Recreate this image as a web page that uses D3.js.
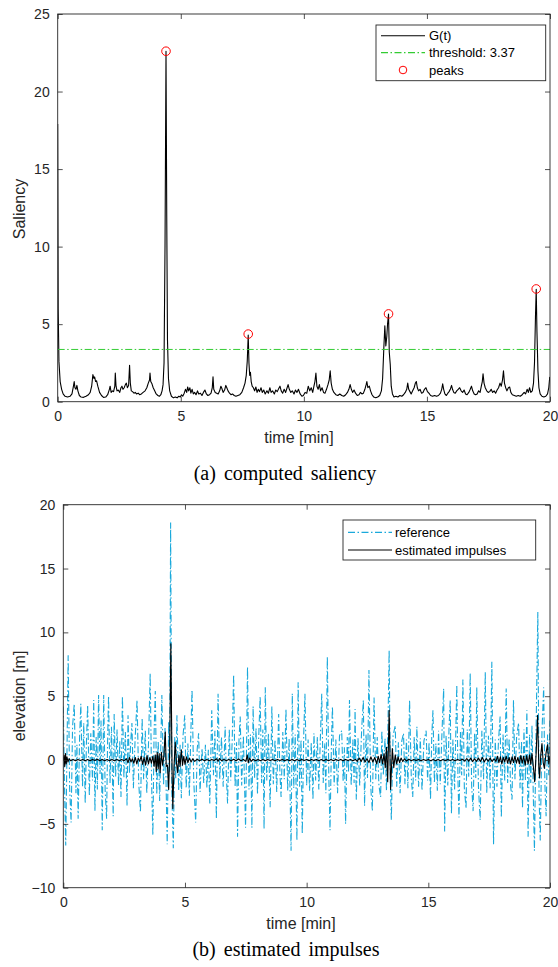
<!DOCTYPE html>
<html><head><meta charset="utf-8">
<script src="https://cdn.jsdelivr.net/npm/d3@7"></script>
<style>body{margin:0;background:#fff}svg{display:block}</style>
</head><body>
<script>
// ---------------- DATA ----------------
const xTicks = [0, 5, 10, 15, 20];
const salTicks = [0, 5, 10, 15, 20, 25];
const elevTicks = [-10, -5, 0, 5, 10, 15, 20];
const threshold = 3.37;
const legendTop = ["G(t)", "threshold: 3.37", "peaks"];
const legendBottom = ["reference", "estimated impulses"];

// saliency G(t): [time (min), value]
const saliency = [
[0.00,17.9],[0.02,6.0],[0.05,2.6],[0.10,1.3],[0.16,0.8],[0.22,0.5],[0.30,0.35],[0.40,0.3],[0.50,0.35],[0.58,0.5],
[0.64,1.0],[0.67,1.3],[0.70,0.9],[0.74,0.8],[0.78,1.05],[0.82,0.7],[0.88,0.4],[0.95,0.3],[1.05,0.28],[1.15,0.35],
[1.25,0.45],[1.32,0.6],[1.38,1.0],[1.43,1.75],[1.47,1.5],[1.50,1.6],[1.54,1.3],[1.58,1.35],[1.63,1.0],[1.70,0.6],
[1.78,0.4],[1.86,0.28],[1.95,0.3],[2.03,0.45],[2.10,0.8],[2.13,1.0],[2.17,0.6],[2.22,0.7],[2.27,0.65],[2.32,1.0],
[2.34,1.85],[2.37,1.0],[2.41,0.7],[2.46,0.75],[2.52,0.6],[2.57,0.9],[2.61,1.0],[2.65,0.8],[2.70,0.9],[2.75,1.1],
[2.79,1.2],[2.83,0.9],[2.88,1.05],[2.92,2.35],[2.95,1.2],[2.99,0.7],[3.04,0.65],[3.10,0.55],[3.15,0.6],[3.20,0.5],
[3.27,0.55],[3.33,0.45],[3.40,0.5],[3.47,0.6],[3.55,0.7],[3.62,0.9],[3.68,1.2],[3.73,1.4],[3.75,1.85],[3.78,1.3],
[3.83,1.15],[3.88,0.9],[3.94,0.7],[4.00,0.5],[4.07,0.4],[4.13,0.35],[4.19,0.45],[4.24,0.7],[4.28,1.1],[4.32,2.5],
[4.36,10],[4.40,22.6],[4.43,12],[4.46,4],[4.50,1.5],[4.55,0.7],[4.62,0.35],[4.70,0.25],[4.78,0.3],[4.85,0.25],
[4.92,0.35],[4.98,0.3],[5.03,0.45],[5.08,0.35],[5.14,0.55],[5.19,0.8],[5.24,0.6],[5.28,0.95],[5.32,0.7],[5.37,0.9],
[5.41,0.55],[5.46,0.8],[5.51,0.5],[5.56,0.6],[5.62,0.45],[5.68,0.7],[5.73,0.5],[5.80,0.55],[5.86,0.4],[5.92,0.6],
[5.98,0.75],[6.04,0.5],[6.10,0.4],[6.17,0.45],[6.23,0.55],[6.28,0.9],[6.31,1.6],[6.34,0.8],[6.40,0.6],[6.46,0.55],
[6.52,0.5],[6.58,0.7],[6.63,1.0],[6.67,0.85],[6.72,0.6],[6.78,0.75],[6.83,1.05],[6.87,0.9],[6.92,0.7],[6.98,0.55],
[7.04,0.45],[7.10,0.5],[7.17,0.4],[7.24,0.35],[7.32,0.4],[7.40,0.45],[7.48,0.6],[7.55,0.9],[7.61,1.2],[7.66,1.7],
[7.70,2.6],[7.74,4.3],[7.77,2.5],[7.80,1.7],[7.83,1.9],[7.86,1.3],[7.90,1.0],[7.95,0.9],[8.00,0.7],[8.05,0.95],
[8.10,0.6],[8.15,0.8],[8.20,0.65],[8.26,0.9],[8.31,0.6],[8.37,0.75],[8.43,0.5],[8.50,0.7],[8.56,0.55],[8.62,0.9],
[8.67,0.6],[8.73,0.7],[8.80,0.5],[8.86,0.75],[8.92,0.65],[8.98,0.85],[9.03,1.0],[9.08,0.7],[9.14,0.55],[9.20,0.8],
[9.26,0.6],[9.31,0.85],[9.36,1.1],[9.41,0.8],[9.47,0.6],[9.53,0.7],[9.60,0.5],[9.66,0.75],[9.72,0.6],[9.78,0.8],
[9.85,0.5],[9.92,0.35],[9.98,0.4],[10.05,0.6],[10.12,0.55],[10.18,1.0],[10.24,0.7],[10.30,0.9],[10.36,0.6],[10.41,1.0],
[10.45,1.3],[10.49,1.85],[10.53,1.0],[10.58,0.8],[10.63,1.1],[10.68,0.7],[10.74,0.9],[10.80,0.6],[10.86,0.55],[10.92,0.8],
[10.98,1.1],[11.03,1.4],[11.07,2.0],[11.11,1.2],[11.16,0.8],[11.22,0.6],[11.30,0.45],[11.38,0.4],[11.46,0.5],[11.54,0.4],
[11.62,0.35],[11.70,0.45],[11.77,0.6],[11.83,0.8],[11.88,1.1],[11.93,0.8],[11.98,0.6],[12.04,0.75],[12.10,0.55],[12.17,0.4],
[12.24,0.45],[12.30,0.6],[12.36,0.5],[12.42,0.55],[12.48,0.8],[12.53,1.1],[12.56,1.3],[12.60,0.9],[12.66,1.0],[12.71,0.7],
[12.77,0.45],[12.84,0.3],[12.92,0.25],[13.00,0.3],[13.08,0.4],[13.15,0.7],[13.20,1.5],[13.25,3.5],[13.29,4.9],[13.33,3.6],
[13.37,4.2],[13.40,5.0],[13.44,5.65],[13.47,3.2],[13.51,2.4],[13.55,1.0],[13.60,0.5],[13.66,0.3],[13.74,0.35],[13.82,0.3],
[13.90,0.4],[13.98,0.35],[14.05,0.45],[14.12,0.6],[14.18,0.8],[14.22,1.2],[14.26,0.8],[14.31,0.65],[14.36,0.5],[14.42,0.7],
[14.48,0.9],[14.53,1.2],[14.57,1.3],[14.61,0.9],[14.66,0.7],[14.72,0.8],[14.78,0.55],[14.84,0.6],[14.90,0.8],[14.96,0.9],
[15.02,0.65],[15.08,0.55],[15.15,0.4],[15.23,0.35],[15.31,0.4],[15.39,0.35],[15.47,0.4],[15.55,0.55],[15.60,0.8],[15.64,1.15],
[15.68,0.8],[15.73,0.5],[15.79,0.4],[15.85,0.55],[15.90,0.65],[15.95,0.8],[16.00,1.05],[16.04,0.8],[16.09,0.6],[16.15,0.55],
[16.21,0.7],[16.27,0.8],[16.33,0.9],[16.39,0.7],[16.45,0.6],[16.51,0.75],[16.57,0.5],[16.63,0.45],[16.70,0.6],[16.76,0.8],
[16.81,1.0],[16.86,0.7],[16.92,0.5],[16.98,0.45],[17.04,0.5],[17.10,0.7],[17.16,0.6],[17.21,1.0],[17.25,1.3],[17.28,1.8],
[17.32,1.2],[17.37,0.9],[17.43,0.7],[17.49,0.6],[17.55,0.65],[17.61,0.8],[17.67,0.6],[17.73,0.7],[17.79,0.55],[17.85,0.75],
[17.91,0.9],[17.97,1.2],[18.02,1.0],[18.07,1.4],[18.11,2.0],[18.15,1.2],[18.20,0.9],[18.25,0.7],[18.31,0.9],[18.36,0.95],
[18.41,0.6],[18.47,0.45],[18.55,0.4],[18.63,0.35],[18.71,0.4],[18.79,0.35],[18.87,0.45],[18.95,0.6],[19.01,0.5],[19.07,0.8],
[19.12,0.6],[19.17,0.9],[19.22,0.6],[19.28,0.7],[19.33,1.2],[19.37,2.5],[19.41,5.5],[19.44,7.25],[19.47,4.5],[19.51,2.0],
[19.55,0.9],[19.60,0.5],[19.67,0.35],[19.75,0.3],[19.83,0.35],[19.90,0.5],[19.95,0.9],[19.99,1.6]
];

// detected peaks: [time, value]
const peaks = [[4.40,22.6],[7.74,4.36],[13.44,5.66],[19.44,7.27]];

// reference elevation: [time, metres]
const reference = [
[0.00,4.2],[0.05,-2.0],[0.10,-6.7],[0.16,2.0],[0.20,8.2],[0.26,-2.2],[0.32,-4.9],[0.38,2.6],[0.45,4.4],[0.52,-2.6],
[0.56,1.2],[0.61,-4.6],[0.67,1.8],[0.72,4.4],[0.79,-2.1],[0.84,2.9],[0.90,-3.4],[0.95,1.3],[1.00,4.3],[1.07,-2.8],
[1.13,2.1],[1.20,-1.6],[1.25,4.7],[1.30,-4.0],[1.35,1.8],[1.40,-2.3],[1.45,5.1],[1.51,-1.1],[1.55,3.1],[1.60,-5.5],
[1.66,5.1],[1.72,-2.4],[1.78,-4.6],[1.82,1.5],[1.86,5.0],[1.92,-1.8],[1.98,2.6],[2.05,-4.4],[2.09,3.6],[2.15,-1.3],
[2.21,2.4],[2.27,-2.0],[2.32,1.5],[2.37,-2.9],[2.43,5.0],[2.49,-1.4],[2.55,2.2],[2.62,-3.6],[2.66,3.5],[2.72,-1.0],
[2.77,1.4],[2.82,2.9],[2.88,-2.2],[2.95,1.6],[3.03,4.7],[3.10,-1.8],[3.17,-4.1],[3.24,3.3],[3.30,-1.5],[3.37,2.3],
[3.43,-2.6],[3.50,1.2],[3.57,6.8],[3.63,-1.9],[3.68,-5.9],[3.73,2.0],[3.78,5.4],[3.84,-2.7],[3.90,1.5],[3.96,-3.2],
[4.05,5.1],[4.12,-2.0],[4.18,2.5],[4.27,-6.6],[4.33,3.0],[4.37,-1.0],[4.41,18.6],[4.46,-2.5],[4.52,-6.9],[4.58,1.8],
[4.62,-1.5],[4.67,3.5],[4.74,-2.4],[4.80,1.2],[4.85,-3.0],[4.92,1.9],[4.99,3.5],[5.05,-2.2],[5.12,1.3],[5.18,-2.8],
[5.24,2.0],[5.29,5.5],[5.36,-1.6],[5.44,-4.9],[5.50,0.8],[5.56,2.1],[5.62,-2.5],[5.70,0.9],[5.77,-1.8],[5.84,1.2],
[5.90,-2.2],[5.96,0.8],[6.02,-3.4],[6.10,3.9],[6.17,-1.2],[6.23,2.3],[6.29,-4.6],[6.36,5.2],[6.43,-1.5],[6.50,1.8],
[6.57,-2.1],[6.65,2.6],[6.70,-1.2],[6.75,-3.4],[6.82,2.4],[6.88,-1.6],[6.94,1.5],[7.00,6.7],[7.06,-2.1],[7.12,1.4],
[7.16,-6.0],[7.22,1.6],[7.27,3.4],[7.33,-2.0],[7.40,1.9],[7.49,-5.3],[7.57,7.3],[7.63,-2.3],[7.69,2.0],[7.75,-5.3],
[7.80,4.2],[7.86,-1.4],[7.92,2.5],[7.98,-2.7],[8.03,1.8],[8.09,5.0],[8.15,-1.8],[8.20,2.4],[8.25,-5.4],[8.30,5.7],
[8.36,-1.6],[8.43,2.1],[8.50,-3.7],[8.57,4.2],[8.63,-1.9],[8.70,1.6],[8.77,-2.5],[8.85,3.6],[8.90,-1.0],[8.95,-2.9],
[9.02,2.2],[9.08,-1.5],[9.15,4.0],[9.22,-2.4],[9.28,1.7],[9.36,-7.1],[9.41,5.2],[9.47,-2.2],[9.53,2.0],[9.60,-6.3],
[9.65,6.1],[9.71,-2.1],[9.77,1.6],[9.82,-5.8],[9.88,2.0],[9.93,5.2],[10.00,-2.0],[10.06,1.6],[10.12,-2.4],[10.19,1.4],
[10.26,-3.1],[10.30,2.1],[10.37,-1.6],[10.44,1.8],[10.50,-2.3],[10.56,1.5],[10.62,5.2],[10.68,-1.8],[10.74,1.3],[10.79,-2.6],
[10.85,8.1],[10.91,-1.2],[10.96,-5.5],[11.02,1.4],[11.06,4.2],[11.13,-2.0],[11.20,1.6],[11.27,-2.6],[11.35,1.9],[11.44,2.3],
[11.50,-1.7],[11.55,1.0],[11.60,-5.0],[11.67,1.8],[11.72,-1.0],[11.76,4.7],[11.83,-2.0],[11.90,1.6],[11.95,-1.8],[11.99,4.0],
[12.04,-3.1],[12.11,1.7],[12.18,-2.0],[12.26,2.4],[12.33,4.7],[12.38,-3.6],[12.44,2.0],[12.50,-1.4],[12.56,7.05],[12.63,-2.0],
[12.70,-4.0],[12.77,4.9],[12.84,-1.5],[12.90,1.8],[12.97,-2.0],[13.04,-2.9],[13.09,2.3],[13.15,-1.2],[13.22,1.7],[13.28,-2.4],
[13.34,2.5],[13.39,8.6],[13.44,-1.7],[13.48,-4.7],[13.55,1.9],[13.64,2.7],[13.70,-2.1],[13.77,1.4],[13.84,-2.6],[13.91,1.5],
[13.98,2.1],[14.04,-1.9],[14.10,1.6],[14.16,-2.2],[14.23,4.7],[14.30,-1.4],[14.36,-2.9],[14.42,1.8],[14.48,-1.6],[14.53,2.6],
[14.60,-2.1],[14.67,1.7],[14.74,-2.4],[14.82,1.5],[14.91,2.3],[14.97,-1.6],[15.03,1.4],[15.09,-3.1],[15.14,1.8],[15.19,3.9],
[15.25,-1.8],[15.31,1.3],[15.37,-2.4],[15.42,2.3],[15.49,-1.9],[15.56,2.1],[15.63,5.6],[15.67,-5.6],[15.73,1.9],[15.80,-2.0],
[15.85,2.5],[15.90,4.7],[15.95,-4.2],[16.01,1.6],[16.08,-2.3],[16.17,5.9],[16.22,-1.7],[16.26,-4.5],[16.32,2.2],[16.37,-1.2],
[16.42,6.3],[16.48,-2.2],[16.55,-3.8],[16.60,2.4],[16.66,-1.3],[16.72,6.8],[16.78,-2.0],[16.84,-4.0],[16.90,2.1],[16.95,-1.4],
[16.99,5.7],[17.06,-2.1],[17.13,-4.7],[17.20,2.3],[17.27,-1.5],[17.34,6.9],[17.40,-2.6],[17.47,1.9],[17.54,-2.2],[17.61,7.7],
[17.68,-6.6],[17.75,1.6],[17.82,-2.1],[17.88,1.4],[17.95,3.4],[18.00,-4.5],[18.07,2.0],[18.14,-1.6],[18.20,5.6],[18.26,-1.8],
[18.32,1.7],[18.38,-2.0],[18.44,-3.1],[18.50,4.7],[18.56,-1.5],[18.63,1.9],[18.71,2.9],[18.77,-2.2],[18.83,1.5],[18.87,-3.8],
[18.93,2.4],[18.99,-1.6],[19.05,3.9],[19.10,-6.0],[19.16,2.0],[19.21,-1.8],[19.26,2.7],[19.31,-2.4],[19.36,-7.1],[19.43,2.5],
[19.50,11.6],[19.55,-2.8],[19.60,-6.3],[19.67,2.2],[19.74,5.7],[19.79,-1.9],[19.84,-4.4],[19.90,2.0],[19.95,-1.2],[20.00,3.1]
];

// estimated impulses: [time, metres]
const impulses = [
[0.00,0.0],[0.03,0.4],[0.06,-0.5],[0.09,0.5],[0.12,-0.3],[0.15,0.25],[0.19,-0.15],[0.24,0.1],[0.30,-0.05],[0.40,0.05],
[0.50,-0.05],[0.60,0.05],[0.70,-0.04],[0.80,0.05],[0.90,-0.05],[1.00,0.04],[1.10,-0.05],[1.20,0.05],[1.30,-0.04],[1.40,0.06],
[1.50,-0.06],[1.60,0.05],[1.70,-0.05],[1.80,0.04],[1.90,-0.05],[2.00,0.05],[2.10,-0.05],[2.20,0.05],[2.30,-0.06],[2.40,0.04],
[2.50,-0.05],[2.60,0.1],[2.66,-0.2],[2.72,0.2],[2.78,-0.15],[2.84,0.1],[2.90,-0.25],[2.96,0.2],[3.02,-0.3],[3.08,0.15],
[3.14,-0.1],[3.20,0.3],[3.26,-0.35],[3.32,0.2],[3.38,-0.4],[3.44,0.35],[3.50,-0.3],[3.56,0.2],[3.62,-0.25],[3.68,0.3],
[3.73,-0.5],[3.78,0.4],[3.82,-0.9],[3.86,0.6],[3.90,-0.7],[3.94,0.5],[3.98,-1.0],[4.03,0.6],[4.08,-0.4],[4.13,0.3],
[4.19,2.2],[4.23,-0.5],[4.28,-0.4],[4.33,-2.3],[4.37,0.5],[4.42,9.1],[4.47,-1.0],[4.50,-3.8],[4.55,-0.5],[4.60,1.4],
[4.65,-0.2],[4.70,-1.0],[4.75,0.4],[4.80,-0.5],[4.85,0.8],[4.90,-0.4],[4.95,0.3],[5.00,-0.35],[5.06,0.25],[5.12,-0.2],
[5.18,0.15],[5.25,-0.15],[5.32,0.1],[5.40,-0.1],[5.50,0.06],[5.60,-0.05],[5.70,0.06],[5.80,-0.05],[5.90,0.04],[6.00,-0.05],
[6.10,0.05],[6.20,-0.04],[6.30,0.1],[6.36,-0.1],[6.42,0.12],[6.50,-0.05],[6.60,0.05],[6.70,-0.06],[6.80,0.05],[6.90,-0.05],
[7.00,0.06],[7.10,-0.05],[7.20,0.08],[7.30,-0.06],[7.40,0.05],[7.50,-0.1],[7.56,0.4],[7.60,-0.2],[7.66,0.15],[7.72,-0.1],
[7.80,0.06],[7.90,-0.05],[8.00,0.05],[8.10,-0.05],[8.20,0.04],[8.30,-0.05],[8.40,0.05],[8.50,-0.04],[8.60,0.05],[8.70,-0.05],
[8.80,0.05],[8.90,-0.04],[9.00,0.05],[9.10,-0.05],[9.20,0.04],[9.30,-0.05],[9.40,0.05],[9.50,-0.05],[9.60,0.04],[9.70,-0.05],
[9.80,0.05],[9.90,-0.04],[10.00,0.05],[10.10,-0.05],[10.20,0.05],[10.30,-0.04],[10.40,0.05],[10.50,-0.05],[10.60,0.04],[10.70,-0.05],
[10.80,0.05],[10.90,-0.05],[11.00,0.04],[11.10,-0.05],[11.20,0.05],[11.30,-0.04],[11.40,0.05],[11.50,-0.05],[11.60,0.05],[11.70,-0.04],
[11.80,0.05],[11.90,-0.05],[12.00,0.05],[12.08,-0.1],[12.16,0.15],[12.24,-0.12],[12.32,0.2],[12.40,-0.15],[12.48,0.1],[12.56,-0.2],
[12.64,0.25],[12.72,-0.15],[12.80,0.2],[12.88,-0.3],[12.94,0.3],[13.00,-0.2],[13.06,0.45],[13.12,-0.3],[13.18,0.5],[13.23,-0.6],
[13.28,1.0],[13.33,-1.7],[13.39,3.9],[13.45,-2.3],[13.52,0.9],[13.58,-0.6],[13.64,0.4],[13.70,-0.3],[13.76,0.25],[13.82,-0.2],
[13.88,0.15],[13.95,-0.12],[14.02,0.1],[14.10,-0.08],[14.20,0.06],[14.30,-0.05],[14.40,0.05],[14.50,-0.04],[14.60,0.05],[14.70,-0.05],
[14.80,0.05],[14.90,-0.04],[15.00,0.05],[15.10,-0.05],[15.20,0.04],[15.30,-0.05],[15.40,0.05],[15.50,-0.05],[15.60,0.04],[15.70,-0.05],
[15.80,0.05],[15.90,-0.04],[16.00,0.05],[16.10,-0.05],[16.20,0.05],[16.30,-0.04],[16.40,0.06],[16.50,-0.08],[16.58,0.12],[16.66,-0.1],
[16.74,0.15],[16.82,-0.12],[16.90,0.1],[16.98,-0.1],[17.06,0.15],[17.14,-0.12],[17.22,0.2],[17.30,-0.15],[17.38,0.12],[17.46,-0.1],
[17.54,0.15],[17.62,-0.12],[17.70,0.1],[17.78,-0.1],[17.84,0.3],[17.90,-0.2],[17.96,0.25],[18.02,-0.3],[18.08,0.2],[18.14,-0.15],
[18.20,0.3],[18.26,-0.25],[18.32,0.2],[18.38,-0.3],[18.44,0.25],[18.50,-0.2],[18.56,0.3],[18.62,-0.25],[18.68,0.2],[18.74,-0.3],
[18.80,0.35],[18.86,-0.25],[18.92,0.3],[18.98,-0.4],[19.04,0.35],[19.10,-0.3],[19.16,0.4],[19.21,-0.35],[19.26,0.5],[19.32,-0.6],
[19.37,-1.7],[19.43,0.5],[19.49,3.5],[19.54,-0.5],[19.57,-1.4],[19.62,0.4],[19.67,1.3],[19.72,-0.2],[19.77,-0.65],[19.84,0.6],
[19.90,1.2],[19.95,-0.3],[20.00,0.3]
];

// ---------------- DRAWING ----------------
const W = 558, H = 967;
const axisColor = "#262626";
const cyan = "#1aa9db";
const green = "#33cc33";
const sans = "'Liberation Sans', Arial, Helvetica, sans-serif";
const serif = "'Liberation Serif', 'Times New Roman', serif";

const svg = d3.select("body").append("svg").attr("width", W).attr("height", H);

function panel(cfg) {
  const {x0, x1, y0, y1, xDom, yDom, yTicks, id} = cfg;
  const x = d3.scaleLinear().domain(xDom).range([x0, x1]);
  const y = d3.scaleLinear().domain(yDom).range([y1, y0]);
  const g = svg.append("g");
  svg.append("clipPath").attr("id", id).append("rect")
    .attr("x", x0).attr("y", y0).attr("width", x1 - x0).attr("height", y1 - y0);
  const plot = g.append("g").attr("clip-path", `url(#${id})`);

  const styleAxis = (sel, labels) => {
    sel.select(".domain").remove();
    sel.selectAll(".tick line").attr("stroke", axisColor).attr("stroke-width", 0.8);
    sel.selectAll(".tick text").attr("fill", axisColor)
      .style("font-family", sans).style("font-size", "14px");
    if (!labels) sel.selectAll(".tick text").remove();
  };
  g.append("g").attr("transform", `translate(0,${y1})`)
    .call(d3.axisBottom(x).tickValues(xTicks).tickSize(-5).tickPadding(9.5).tickFormat(d3.format("d")))
    .call(s => styleAxis(s, true));
  g.append("g").attr("transform", `translate(0,${y0})`)
    .call(d3.axisTop(x).tickValues(xTicks).tickSize(-5))
    .call(s => styleAxis(s, false));
  g.append("g").attr("transform", `translate(${x0},0)`)
    .call(d3.axisLeft(y).tickValues(yTicks).tickSize(-5).tickPadding(8).tickFormat(d3.format("d")))
    .call(s => styleAxis(s, true));
  g.append("g").attr("transform", `translate(${x1},0)`)
    .call(d3.axisRight(y).tickValues(yTicks).tickSize(-5))
    .call(s => styleAxis(s, false));
  g.append("rect").attr("x", x0).attr("y", y0).attr("width", x1 - x0).attr("height", y1 - y0)
    .attr("fill", "none").attr("stroke", axisColor).attr("stroke-width", 0.9);
  return {x, y, g, plot};
}

// ---- panel (a)
const A = panel({x0: 57.7, x1: 550, y0: 14, y1: 401.7, xDom: [0, 20], yDom: [0, 25], yTicks: salTicks, id: "clipA"});
const lineA = d3.line().x(d => A.x(d[0])).y(d => A.y(d[1]));
A.plot.append("path").datum(saliency).attr("d", lineA)
  .attr("fill", "none").attr("stroke", "#000").attr("stroke-width", 1.1).attr("stroke-linejoin", "round");
A.plot.append("line").attr("x1", A.x(0)).attr("x2", A.x(20)).attr("y1", A.y(threshold)).attr("y2", A.y(threshold))
  .attr("stroke", green).attr("stroke-width", 1).attr("stroke-dasharray", "7,2.5,1.5,2.5");
A.g.selectAll("circle.pk").data(peaks).join("circle").attr("class", "pk")
  .attr("cx", d => A.x(d[0])).attr("cy", d => A.y(d[1])).attr("r", 4.3)
  .attr("fill", "none").attr("stroke", "#ff0000").attr("stroke-width", 1);

// labels (a)
A.g.append("text").attr("x", 299).attr("y", 443).attr("text-anchor", "middle")
  .style("font-family", sans).style("font-size", "16px").attr("fill", axisColor).text("time [min]");
A.g.append("text").attr("transform", "translate(25,209) rotate(-90)").attr("text-anchor", "middle")
  .style("font-family", sans).style("font-size", "16px").attr("fill", axisColor).text("Saliency");
svg.append("text").attr("x", 285).attr("y", 480).attr("text-anchor", "middle")
  .style("font-family", serif).style("font-size", "20px").style("word-spacing", "3px").attr("fill", "#000")
  .text("(a) computed saliency");

// legend (a)
{
  const lg = A.g.append("g");
  lg.append("rect").attr("x", 376).attr("y", 25).attr("width", 169.7).attr("height", 55.7)
    .attr("fill", "#fff").attr("stroke", axisColor).attr("stroke-width", 0.9);
  const rows = [35.7, 52.7, 70];
  lg.append("line").attr("x1", 381).attr("x2", 425).attr("y1", rows[0]).attr("y2", rows[0])
    .attr("stroke", "#000").attr("stroke-width", 1.1);
  lg.append("line").attr("x1", 381).attr("x2", 425).attr("y1", rows[1]).attr("y2", rows[1])
    .attr("stroke", green).attr("stroke-width", 1.2).attr("stroke-dasharray", "7,2.5,1.5,2.5");
  lg.append("circle").attr("cx", 403).attr("cy", rows[2]).attr("r", 3.8)
    .attr("fill", "none").attr("stroke", "#ff0000").attr("stroke-width", 1);
  lg.selectAll("text").data(legendTop).join("text")
    .attr("x", 429).attr("y", (d, i) => rows[i] + 4.7)
    .style("font-family", sans).style("font-size", "13px").attr("fill", "#000").text(d => d);
}

// ---- panel (b)
const B = panel({x0: 63.3, x1: 550, y0: 504.7, y1: 887.7, xDom: [0, 20], yDom: [-10, 20], yTicks: elevTicks, id: "clipB"});
const lineB = d3.line().x(d => B.x(d[0])).y(d => B.y(d[1]));
B.plot.append("path").datum(reference).attr("d", lineB)
  .attr("fill", "none").attr("stroke", cyan).attr("stroke-width", 1.1)
  .attr("stroke-dasharray", "7,2.5,1.5,2.5");
B.plot.append("path").datum(impulses).attr("d", lineB)
  .attr("fill", "none").attr("stroke", "#000").attr("stroke-width", 1.1).attr("stroke-linejoin", "round");

B.g.append("text").attr("x", 301).attr("y", 929).attr("text-anchor", "middle")
  .style("font-family", sans).style("font-size", "16px").attr("fill", axisColor).text("time [min]");
B.g.append("text").attr("transform", "translate(25,696) rotate(-90)").attr("text-anchor", "middle")
  .style("font-family", sans).style("font-size", "16px").attr("fill", axisColor).text("elevation [m]");
svg.append("text").attr("x", 286).attr("y", 956).attr("text-anchor", "middle")
  .style("font-family", serif).style("font-size", "20px").style("word-spacing", "3px").attr("fill", "#000")
  .text("(b) estimated impulses");

// legend (b)
{
  const lg = B.g.append("g");
  lg.append("rect").attr("x", 343).attr("y", 520).attr("width", 192.7).attr("height", 40)
    .attr("fill", "#fff").attr("stroke", axisColor).attr("stroke-width", 0.9);
  const rows = [532.3, 550];
  lg.append("line").attr("x1", 348).attr("x2", 392).attr("y1", rows[0]).attr("y2", rows[0])
    .attr("stroke", cyan).attr("stroke-width", 1.2).attr("stroke-dasharray", "7,2.5,1.5,2.5");
  lg.append("line").attr("x1", 348).attr("x2", 392).attr("y1", rows[1]).attr("y2", rows[1])
    .attr("stroke", "#000").attr("stroke-width", 1.1);
  lg.selectAll("text").data(legendBottom).join("text")
    .attr("x", 395).attr("y", (d, i) => rows[i] + 4.7)
    .style("font-family", sans).style("font-size", "13px").attr("fill", "#000").text(d => d);
}
</script>
</body></html>
